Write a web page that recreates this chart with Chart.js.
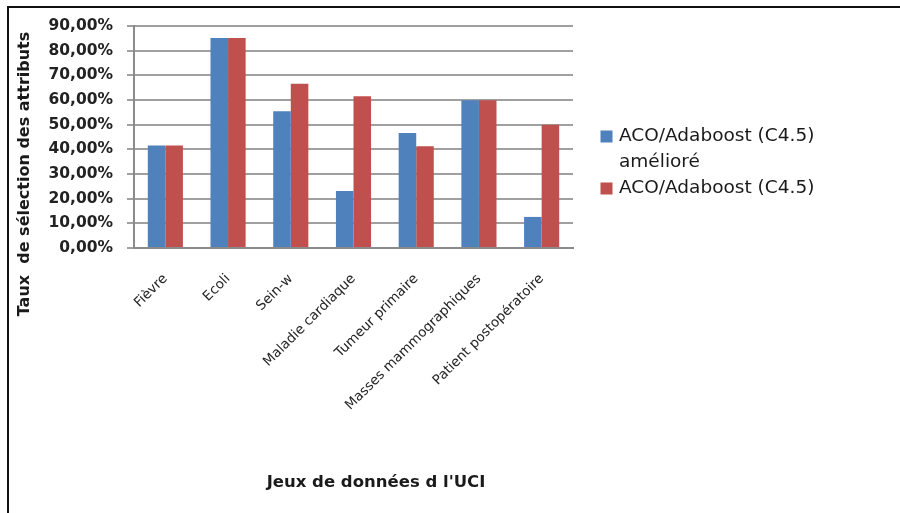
<!DOCTYPE html>
<html lang="fr">
<head>
<meta charset="utf-8">
<title>Taux de sélection des attributs</title>
<script src="https://cdn.jsdelivr.net/npm/chart.js@4.4.1/dist/chart.umd.min.js"></script>
<style>
  html, body { margin: 0; padding: 0; background: #fff; }
  #wrap { position: relative; width: 900px; height: 513px; }
  #frame {
    position: absolute; left: 7px; top: 6px; right: 0; bottom: 0;
    border-top: 2px solid #111; border-left: 2px solid #111;
    pointer-events: none;
  }
</style>
</head>
<body>
<div id="wrap">
  <canvas id="chart"></canvas>
  <div id="frame"></div>
</div>
<script>
// values, in %
const datasetsUCI = ['Fièvre', 'Ecoli', 'Sein-w', 'Maladie cardiaque', 'Tumeur primaire', 'Masses mammographiques', 'Patient postopératoire'];
const improvedRates = [41.6, 85.1, 55.4, 23.1, 46.6, 59.9, 12.6];
const baseRates     = [41.6, 85.1, 66.6, 61.5, 41.2, 59.9, 50.0];
const seriesNames = ['ACO/Adaboost (C4.5) amélioré', 'ACO/Adaboost (C4.5)'];
const yTitle = 'Taux  de sélection des attributs';
const xTitle = "Jeux de données d l'UCI";

const BLUE = '#4F81BD';
const RED = '#C0504D';
const GRID = '#a0a0a0';
const AXIS = '#8a8a8a';
const INK = '#1a1a1a';
const FONT = "'DejaVu Sans', sans-serif";

function pct(v) {
  return v.toFixed(2).replace('.', ',') + '%';
}

// wrap a label so it fits a given width (Excel-style legend)
function wrapText(ctx, text, maxWidth) {
  const words = text.split(' ');
  const lines = [];
  let line = '';
  for (const w of words) {
    const test = line ? line + ' ' + w : w;
    if (line && ctx.measureText(test).width > maxWidth) {
      lines.push(line);
      line = w;
    } else {
      line = test;
    }
  }
  if (line) lines.push(line);
  return lines;
}

// ─── Axis titles + legend, drawn like the Excel original ─────────────────
const excelExtras = {
  id: 'excelExtras',
  afterDraw(chart) {
    const { ctx } = chart;
    ctx.save();
    ctx.fillStyle = INK;

    // y title
    ctx.font = `bold 16px ${FONT}`;
    ctx.textAlign = 'center';
    ctx.textBaseline = 'middle';
    ctx.save();
    ctx.translate(25, 174);
    ctx.rotate(-Math.PI / 2);
    ctx.fillText(yTitle, 0, 0);
    ctx.restore();

    // x title
    ctx.font = `bold 16.5px ${FONT}`;
    ctx.fillText(xTitle, 376, 483);

    // legend
    ctx.font = `18.5px ${FONT}`;
    ctx.textAlign = 'left';
    const lineH = 26;
    let y = 136.5;
    chart.data.datasets.forEach(ds => {
      ctx.fillStyle = ds.backgroundColor;
      ctx.fillRect(600.5, y - 6, 12, 12);
      ctx.fillStyle = INK;
      const lines = wrapText(ctx, ds.label, 210);
      lines.forEach((l, j) => ctx.fillText(l, 619, y + j * lineH));
      y += lines.length * lineH;
    });
    ctx.restore();
  },
};

new Chart(document.getElementById('chart'), {
  type: 'bar',
  data: {
    labels: datasetsUCI,
    datasets: [
      { label: seriesNames[0], data: improvedRates, backgroundColor: BLUE },
      { label: seriesNames[1], data: baseRates, backgroundColor: RED },
    ],
  },
  options: {
    responsive: true,
    maintainAspectRatio: false,
    animation: false,
    layout: { padding: { top: 26, right: 327, left: 0, bottom: 0 } },
    datasets: {
      bar: { barPercentage: 1, categoryPercentage: 0.56 },
    },
    plugins: {
      legend: { display: false },
      tooltip: { enabled: false },
    },
    scales: {
      x: {
        grid: { display: false, drawTicks: false },
        border: { display: true, color: AXIS, width: 2 },
        ticks: {
          color: '#262626',
          font: { family: FONT, size: 13.5 },
          minRotation: 45,
          maxRotation: 45,
          padding: 23,
          autoSkip: false,
        },
        afterFit: scale => { scale.height = 265; },
      },
      y: {
        min: 0,
        max: 90,
        grid: { color: GRID, lineWidth: 2, tickLength: 7 },
        border: { color: AXIS, width: 2 },
        ticks: {
          stepSize: 10,
          color: '#222',
          font: { family: FONT, size: 15.5, weight: 'bold' },
          padding: 14,
          callback: v => pct(v),
        },
        afterFit: scale => { scale.width = 134; },
      },
    },
  },
  plugins: [excelExtras],
});
</script>
</body>
</html>
